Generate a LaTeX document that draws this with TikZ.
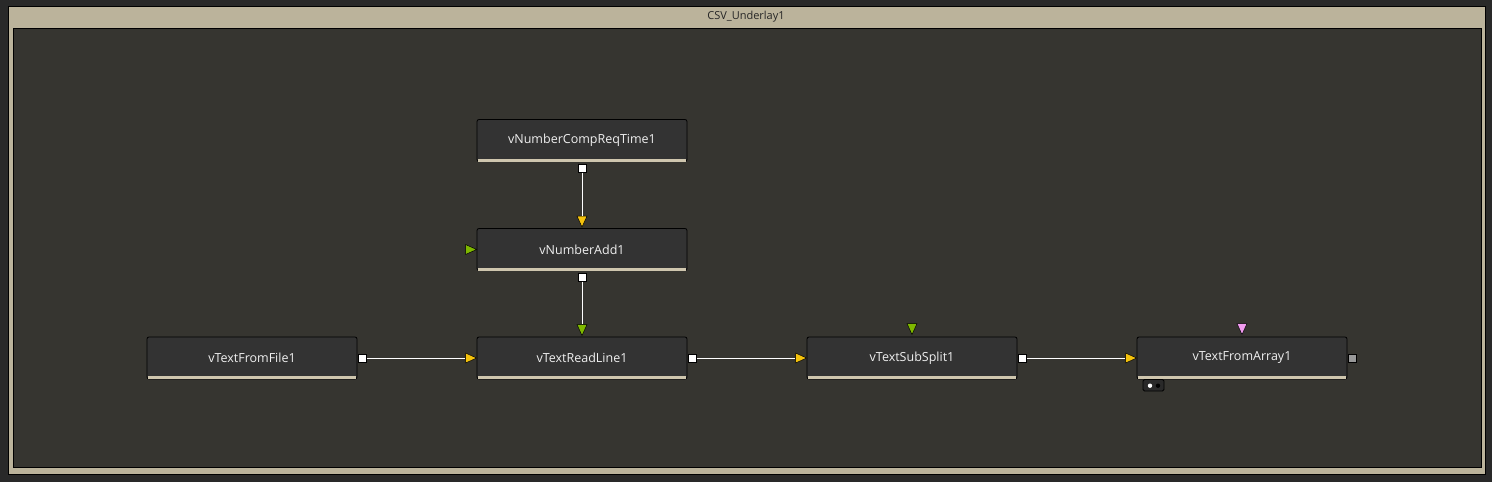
\documentclass[tikz,border=0pt]{standalone}
\usepackage{fontspec}
\setmainfont{Open Sans}
\usetikzlibrary{shapes.geometric}
\definecolor{flowbg}{HTML}{292929}
\definecolor{underlaytan}{HTML}{BBB39B}
\definecolor{underlayin}{HTML}{363530}
\definecolor{toolfill}{HTML}{333333}
\definecolor{striptan}{HTML}{CFC6AE}
\definecolor{portyellow}{HTML}{F4C20D}
\definecolor{portgreen}{HTML}{7FB800}
\definecolor{portpink}{HTML}{F29CF0}
\tikzset{
  tool/.style={draw=black, line width=0.8pt, fill=toolfill, rounded corners=2pt,
    minimum width=210pt, minimum height=42pt, inner sep=0pt, text=white!94!black,
    font=\fontsize{12.5}{14}\selectfont},
  outport/.style={draw=black, line width=0.7pt, fill=white, minimum size=8pt, inner sep=0pt},
  inport/.style={isosceles triangle, isosceles triangle apex angle=60, draw=black,
    line width=0.5pt, inner sep=0pt, minimum height=11pt, minimum width=10pt,
    isosceles triangle stretches},
  link/.style={white, line width=1pt}
}
\begin{document}
\begin{tikzpicture}[x=1pt, y=-1pt]
    \fill [flowbg] (0,0) rectangle (1492,482);
    % underlay frame
    \draw [black, line width=1pt, fill=underlaytan] (8,6) rectangle (1485,474);
    \draw [black, line width=1pt, fill=underlayin] (13,28) rectangle (1481,467);
    \node [text=black!85, font=\fontsize{11}{13}\selectfont] (title) at (746,17) {CSV\_Underlay1};

    % tools
    \node [tool] (req) at (582,140.5) {vNumberCompReqTime1};
    \node [tool] (add) at (582,249.5) {vNumberAdd1};
    \node [tool] (file) at (252,358) {vTextFromFile1};
    \node [tool] (read) at (582,358) {vTextReadLine1};
    \node [tool] (split) at (912,358) {vTextSubSplit1};
    \node [tool] (arr) at (1242,358) {vTextFromArray1};
    \foreach \n in {req,add,file,read,split,arr}
        \fill [striptan] ([xshift=1pt,yshift=0.4pt]\n.south west) rectangle ([xshift=-1pt,yshift=3.4pt]\n.south east);

    % outputs
    \node [outport, anchor=north] (reqout) at ([yshift=-2pt]req.south) {};
    \node [outport, anchor=north] (addout) at ([yshift=-2pt]add.south) {};
    \node [outport, anchor=west] (fileout) at ([xshift=1pt]file.east) {};
    \node [outport, anchor=west] (readout) at ([xshift=1pt]read.east) {};
    \node [outport, anchor=west] (splitout) at ([xshift=1pt]split.east) {};
    \node [outport, anchor=west, fill=black!40] (arrout) at ([xshift=1pt]arr.east) {};

    % inputs
    \node [inport, fill=portyellow, shape border rotate=270, anchor=apex] (addtop) at ([yshift=0.5pt]add.north) {};
    \node [inport, fill=portgreen, anchor=apex] (addleft) at ([xshift=0.5pt]add.west) {};
    \node [inport, fill=portgreen, shape border rotate=270, anchor=apex] (readtop) at ([yshift=0.5pt]read.north) {};
    \node [inport, fill=portyellow, anchor=apex] (readin) at ([xshift=0.5pt]read.west) {};
    \node [inport, fill=portgreen, shape border rotate=270, anchor=apex] (splittop) at ([yshift=1.5pt]split.north) {};
    \node [inport, fill=portyellow, anchor=apex] (splitin) at ([xshift=0.5pt]split.west) {};
    \node [inport, fill=portpink, shape border rotate=270, anchor=apex] (arrtop) at ([yshift=1.5pt]arr.north) {};
    \node [inport, fill=portyellow, anchor=apex] (arrin) at ([xshift=0.5pt]arr.west) {};

    % links
    \draw [link] (reqout) -- (addtop);
    \draw [link] (addout) -- (readtop);
    \draw [link] (fileout) -- (readin);
    \draw [link] (readout) -- (splitin);
    \draw [link] (splitout) -- (arrin);

    % view tab under vTextFromArray1
    \draw [black, line width=0.8pt, fill=flowbg, rounded corners=1.5pt] (1143,379.5) rectangle (1164,391);
    \fill [white] (1150,385.7) circle (2.2pt);
    \fill [black] (1158,385.7) circle (2.2pt);
\end{tikzpicture}
\end{document}
